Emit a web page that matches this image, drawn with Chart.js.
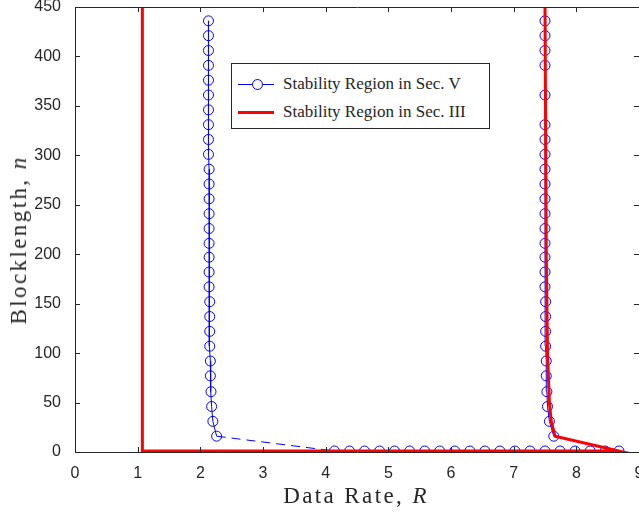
<!DOCTYPE html>
<html>
<head>
<meta charset="utf-8">
<script src="https://cdn.jsdelivr.net/npm/chart.js@4.4.1/dist/chart.umd.min.js"></script>
<style>
  body { margin: 0; background: #fff; }
  #wrap { position: relative; width: 639px; height: 512px; overflow: hidden; }
  #c { position: absolute; left: 0; top: 0; }
  .ttl { position: absolute; font-family: "Liberation Serif", "DejaVu Serif", serif; font-size: 23px; letter-spacing: 2.4px; color: #262626; white-space: nowrap; }
  #xt { left: 356px; top: 496px; transform: translate(-50%, -50%); }
  #yt { left: 19px; top: 240px; transform: translate(-50%, -50%) rotate(-90deg); }
  #legend { position: absolute; left: 231px; top: 63px; width: 257px; height: 64px; border: 1px solid #262626; background: #fff;
            font-family: "Liberation Serif", serif; font-size: 17px; color: #262626; }
  .row { position: absolute; left: 0; height: 20px; white-space: nowrap; }
  .row span.txt { position: absolute; left: 51px; top: 0; line-height: 20px; }
  .smp { position: absolute; left: 6px; top: 10px; width: 36px; }
  .blue { border-top: 1px solid #0000ff; }
  .red { border-top: 3px solid #ff0000; top: 9px; }
  .mk { position: absolute; left: 20px; top: 5px; width: 9px; height: 9px; border: 1px solid #0000ff; border-radius: 50%; background: #fff; }
</style>
</head>
<body>
<div id="wrap">
  <canvas id="c" width="645" height="512"></canvas>
  <div class="ttl" id="xt">Data Rate, <i>R</i></div>
  <div class="ttl" id="yt">Blocklength, <i>n</i></div>
  <div id="legend">
    <div class="row" style="top:10px"><div class="smp blue"></div><div class="mk"></div><span class="txt">Stability Region in Sec. V</span></div>
    <div class="row" style="top:38px"><div class="smp red"></div><span class="txt">Stability Region in Sec. III</span></div>
  </div>
</div>
<script>
// Sec. V (blue circles): left branch top -> bottom, bottom row left -> right, right branch bottom -> top
const leftN = [436, 421, 406, 391, 376, 361, 346, 331, 316, 301, 286, 271, 256, 241, 226, 211, 197, 182, 167, 152, 137, 122, 107, 92, 77, 61, 46, 31, 16];
const leftR = [2.13, 2.13, 2.13, 2.13, 2.13, 2.13, 2.13, 2.13, 2.13, 2.13, 2.14, 2.14, 2.14, 2.14, 2.14, 2.14, 2.14, 2.14, 2.14, 2.15, 2.15, 2.15, 2.15, 2.16, 2.16, 2.17, 2.18, 2.20, 2.26];
const bottomR = [4.14, 4.38, 4.62, 4.86, 5.10, 5.34, 5.58, 5.82, 6.06, 6.30, 6.54, 6.78, 7.02, 7.26, 7.50, 7.74, 7.98, 8.22, 8.46, 8.68];
const bottomN = 1;
const rightN = [16, 31, 46, 61, 77, 92, 107, 122, 137, 152, 167, 182, 197, 211, 226, 241, 256, 271, 286, 301, 316, 331, 361, 391, 406, 421, 436];
const rightR = [7.64, 7.57, 7.54, 7.53, 7.52, 7.52, 7.51, 7.51, 7.51, 7.51, 7.50, 7.50, 7.50, 7.50, 7.50, 7.50, 7.50, 7.50, 7.50, 7.50, 7.50, 7.50, 7.50, 7.50, 7.50, 7.50, 7.50];

// Sec. III (red line)
const redR = [1.075, 1.075, 8.68, 7.66, 7.60, 7.57, 7.54, 7.52, 7.50];
const redN = [450, 1, 1, 16, 31, 50, 100, 200, 450];

const xTicks = [0, 1, 2, 3, 4, 5, 6, 7, 8, 9];
const yTicks = [0, 50, 100, 150, 200, 250, 300, 350, 400, 450];

const bluePts = [];
leftR.forEach((r, i) => bluePts.push({ x: r, y: leftN[i] }));
bottomR.forEach(r => bluePts.push({ x: r, y: bottomN }));
rightR.forEach((r, i) => bluePts.push({ x: r, y: rightN[i] }));
const redPts = redR.map((r, i) => ({ x: r, y: redN[i] }));

const axisColor = '#262626';

// box round the plot with inward ticks, like MATLAB
const frameTicks = {
    id: 'frameTicks',
    afterDatasetsDraw(chart) {
        const { ctx, chartArea: a, scales } = chart;
        ctx.save();
        ctx.strokeStyle = axisColor;
        ctx.lineWidth = 1;
        ctx.beginPath();
        ctx.rect(Math.round(a.left) + 0.5, Math.round(a.top) + 0.5, Math.round(a.right - a.left), Math.round(a.bottom - a.top));
        scales.x.ticks.forEach(t => {
            const px = Math.round(scales.x.getPixelForValue(t.value)) + 0.5;
            ctx.moveTo(px, a.bottom); ctx.lineTo(px, a.bottom - 5);
            ctx.moveTo(px, a.top); ctx.lineTo(px, a.top + 5);
        });
        scales.y.ticks.forEach(t => {
            const py = Math.round(scales.y.getPixelForValue(t.value)) + 0.5;
            ctx.moveTo(a.left, py); ctx.lineTo(a.left + 5, py);
            ctx.moveTo(a.right, py); ctx.lineTo(a.right - 5, py);
        });
        ctx.stroke();
        ctx.restore();
    }
};

new Chart(document.getElementById('c'), {
    type: 'scatter',
    data: {
        datasets: [
            {
                label: 'Stability Region in Sec. III',
                data: redPts,
                showLine: true,
                borderColor: '#ff0000',
                borderWidth: 3,
                pointRadius: 0,
                order: 0,
            },
            {
                label: 'Stability Region in Sec. V',
                data: bluePts,
                showLine: true,
                borderColor: '#0000ff',
                borderWidth: 1,
                pointRadius: 5,
                pointBorderWidth: 1,
                pointBorderColor: '#0000ff',
                pointBackgroundColor: 'rgba(0,0,0,0)',
                order: 1,
                segment: {
                    borderDash: c => Math.hypot(c.p1.x - c.p0.x, c.p1.y - c.p0.y) > 40 ? [9, 6] : undefined,
                },
            },
        ],
    },
    options: {
        responsive: false,
        animation: false,
        layout: { padding: { top: 7, right: 0, left: 1, bottom: 0 } },
        plugins: { legend: { display: false }, tooltip: { enabled: false } },
        scales: {
            x: {
                type: 'linear', min: 0, max: 9,
                afterBuildTicks: s => { s.ticks = xTicks.map(v => ({ value: v })); },
                afterFit: s => { s.height = 60; s.paddingLeft = 0; s.paddingRight = 0; },
                grid: { display: false },
                border: { display: false },
                ticks: { color: axisColor, font: { family: 'Liberation Sans', size: 16 }, padding: 4 },
            },
            y: {
                type: 'linear', min: 0, max: 450,
                afterBuildTicks: s => { s.ticks = yTicks.map(v => ({ value: v })); },
                afterFit: s => { s.width = 74; s.paddingTop = 0; s.paddingBottom = 0; },
                grid: { display: false },
                border: { display: false },
                ticks: { color: axisColor, font: { family: 'Liberation Sans', size: 16 }, padding: 6 },
            },
        },
    },
    plugins: [frameTicks],
});
</script>
</body>
</html>
